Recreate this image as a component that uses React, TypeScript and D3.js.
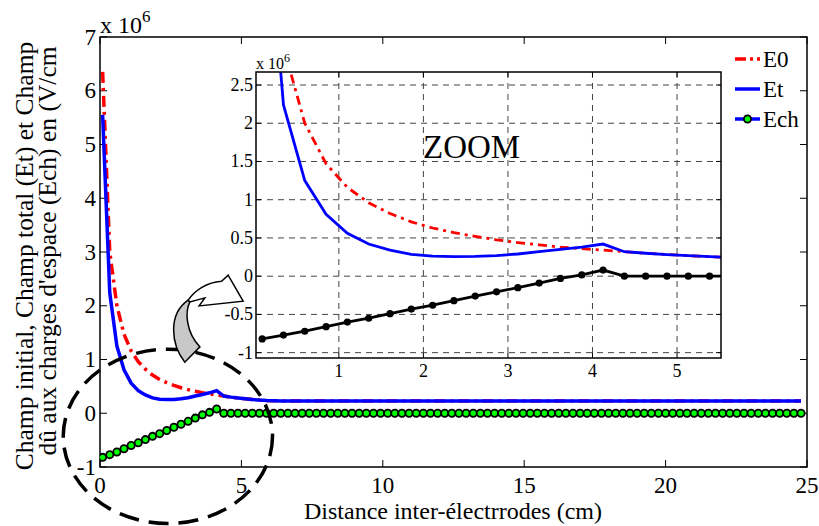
import React from 'react';
import * as d3 from 'd3';

const W = 819;
const H = 526;
const FONT = "Liberation Serif, Tinos, Times New Roman, DejaVu Serif, serif";

// sampling grid of the simulation (cm)
const GRID_START = 0.093;
const GRID_STEP = 0.252;
const GRID_COUNT = 99;
const distance = d3.range(GRID_COUNT).map(i => GRID_START + GRID_STEP * i);

// x 10^6 V/cm, first 26 grid points, then flat to the end
const e0Head = [
  6.35, 3.0, 2.0, 1.47, 1.16, 0.96, 0.82, 0.71, 0.63, 0.57, 0.52, 0.475, 0.44,
  0.41, 0.38, 0.36, 0.34, 0.32, 0.3, 0.283, 0.268, 0.255, 0.245, 0.238, 0.234, 0.23,
];
const etHead = [
  5.55, 2.24, 1.25, 0.81, 0.56, 0.42, 0.34, 0.285, 0.262, 0.255, 0.258, 0.27, 0.29,
  0.32, 0.35, 0.38, 0.42, 0.32, 0.3, 0.283, 0.268, 0.255, 0.245, 0.238, 0.234, 0.23,
];
const tailValue = 0.23;

const ech = [
  -0.82, -0.77, -0.72, -0.66, -0.6, -0.55, -0.49, -0.43, -0.38, -0.32, -0.26, -0.205,
  -0.15, -0.09, -0.03, 0.017, 0.08,
  0, 0, 0, 0, 0, 0, 0, 0, 0, 0, 0, 0, 0, 0, 0, 0, 0, 0, 0, 0,
  0, 0, 0, 0, 0, 0, 0, 0, 0, 0, 0, 0, 0, 0, 0, 0, 0, 0, 0, 0,
  0, 0, 0, 0, 0, 0, 0, 0, 0, 0, 0, 0, 0, 0, 0, 0, 0, 0, 0, 0,
  0, 0, 0, 0, 0, 0, 0, 0, 0, 0, 0, 0, 0, 0, 0, 0, 0, 0, 0, 0,
  0, 0,
];

const xTicks = [0, 5, 10, 15, 20, 25];
const yTicks = [-1, 0, 1, 2, 3, 4, 5, 6, 7];
const xTicksZoom = [1, 2, 3, 4, 5];
const yTicksZoom = [-1, -0.5, 0, 0.5, 1, 1.5, 2, 2.5];

const legendItems = ['E0', 'Et', 'Ech'];

type Pt = [number, number];

const withTail = (head: number[]): Pt[] =>
  head.map((v, i) => [distance[i], v] as Pt).concat([[distance[GRID_COUNT - 1], tailValue]]);

const e0Pts = withTail(e0Head);
const etPts = withTail(etHead);
const echPts: Pt[] = ech.map((v, i) => [distance[i], v]);

// main axes
const x = d3.scaleLinear().domain([0, 25]).range([100, 807]);
const y = d3.scaleLinear().domain([-1, 7]).range([467, 37]);
// zoom inset
const xi = d3.scaleLinear().domain([0.02, 5.52]).range([256, 721]);
const yi = d3.scaleLinear().domain([-1.07, 2.67]).range([358, 72]);

const App = () => {
  const mainLine = d3.line<Pt>().x(d => x(d[0])).y(d => y(d[1]));
  const zoomLine = d3.line<Pt>().x(d => xi(d[0])).y(d => yi(d[1]));

  const [x0, x1] = x.range();
  const [y0, y1] = y.range();
  const [ix0, ix1] = xi.range();
  const [iy0, iy1] = yi.range();

  // annotation ellipse and arrow, anchored in data units
  const ecx = x(2.4);
  const ecy = y(-0.43);
  const erx = x(2.4 + 3.7) - ecx;
  const ery = y(-0.43) - y(1.19);
  const ax = x(3.0);
  const ay = y(0.95);

  return (
    <svg width={W} height={H} fontFamily={FONT}
      style={{ position: 'absolute', left: 0, top: 0, background: '#fff' }}>
      <defs>
        <clipPath id="mainClip">
          <rect x={x0} y={y1} width={x1 - x0} height={y0 - y1} />
        </clipPath>
        <clipPath id="zoomClip">
          <rect x={ix0} y={iy1} width={ix1 - ix0} height={iy0 - iy1} />
        </clipPath>
      </defs>
      <rect width={W} height={H} fill="#fff" />

      {/* main frame and ticks */}
      <rect x={x0} y={y1} width={x1 - x0} height={y0 - y1} fill="none" stroke="#000" strokeWidth={1.5} />
      {xTicks.map(t => (
        <g key={'xt' + t}>
          <line x1={x(t)} x2={x(t)} y1={y0} y2={y0 - 7} stroke="#000" />
          <line x1={x(t)} x2={x(t)} y1={y1} y2={y1 + 7} stroke="#000" />
          <text x={x(t)} y={493} fontSize={23} textAnchor="middle">{t}</text>
        </g>
      ))}
      {yTicks.map(t => (
        <g key={'yt' + t}>
          <line x1={x0} x2={x0 + 7} y1={y(t)} y2={y(t)} stroke="#000" />
          <line x1={x1} x2={x1 - 7} y1={y(t)} y2={y(t)} stroke="#000" />
          <text x={96} y={y(t)} fontSize={23} textAnchor="end" dominantBaseline="central">{t}</text>
        </g>
      ))}
      <text x={100} y={33} fontSize={24}>
        x 10<tspan fontSize={17} dy={-11}>6</tspan>
      </text>
      <text x={453} y={519} fontSize={24} textAnchor="middle">Distance inter-électrrodes (cm)</text>
      <text transform="translate(33,256) rotate(-90)" fontSize={25.5} textAnchor="middle">
        Champ initial, Champ total (Et) et Champ
      </text>
      <text transform="translate(56,251) rotate(-90)" fontSize={25.5} textAnchor="middle">
        dû aux charges d'espace (Ech) en (V/cm
      </text>

      {/* main curves */}
      <g clipPath="url(#mainClip)">
        <path d={mainLine(e0Pts) ?? ''} fill="none" stroke="#ff0000" strokeWidth={3.5}
          strokeDasharray="11,5,3,5" />
        <path d={mainLine(etPts) ?? ''} fill="none" stroke="#0000ff" strokeWidth={3.5} />
        <path d={mainLine(echPts) ?? ''} fill="none" stroke="#000" strokeWidth={2} />
        {echPts.map((d, i) => (
          <circle key={i} cx={x(d[0])} cy={y(d[1])} r={3.6} fill="#00ff00" stroke="#000" strokeWidth={1.8} />
        ))}
      </g>

      {/* dashed ellipse */}
      <ellipse cx={ecx} cy={ecy} rx={erx} ry={ery} fill="none" stroke="#000" strokeWidth={3.5}
        strokeDasharray="20,10" />

      {/* curved arrow */}
      <g transform={`translate(${ax},${ay})`} stroke="#000" strokeWidth={1.5} strokeLinejoin="miter">
        <path d="M0,0 C-14,-18 -17,-48 3.3,-62 L5,-60.3 C0,-50 1,-30 15,-15.3 Z" fill="#c8c8c8" />
        <path d="M3.3,-62 C10,-72 22,-80 36.7,-81 L43.3,-87 L58.3,-61 L14.3,-56.3 L20,-64.3 L5,-60.3 Z"
          fill="#fff" />
      </g>

      {/* zoom inset */}
      <rect x={ix0} y={iy1} width={ix1 - ix0} height={iy0 - iy1} fill="#fff" />
      {xTicksZoom.map(t => (
        <line key={'gx' + t} x1={xi(t)} x2={xi(t)} y1={iy1} y2={iy0} stroke="#444" strokeWidth={1}
          strokeDasharray="6,5" />
      ))}
      {yTicksZoom.map(t => (
        <line key={'gy' + t} x1={ix0} x2={ix1} y1={yi(t)} y2={yi(t)} stroke="#444" strokeWidth={1}
          strokeDasharray="6,5" />
      ))}
      <g clipPath="url(#zoomClip)">
        <path d={zoomLine(e0Pts) ?? ''} fill="none" stroke="#ff0000" strokeWidth={2.8}
          strokeDasharray="9,5,3,5" />
        <path d={zoomLine(etPts) ?? ''} fill="none" stroke="#0000ff" strokeWidth={2.8} />
        <path d={zoomLine(echPts) ?? ''} fill="none" stroke="#000" strokeWidth={2.8} />
        {echPts.map((d, i) => (
          <circle key={i} cx={xi(d[0])} cy={yi(d[1])} r={3.6} fill="#000" />
        ))}
      </g>
      <rect x={ix0} y={iy1} width={ix1 - ix0} height={iy0 - iy1} fill="none" stroke="#000" strokeWidth={1.5} />
      {xTicksZoom.map(t => (
        <g key={'ixt' + t}>
          <line x1={xi(t)} x2={xi(t)} y1={iy0} y2={iy0 - 5} stroke="#000" />
          <line x1={xi(t)} x2={xi(t)} y1={iy1} y2={iy1 + 5} stroke="#000" />
          <text x={xi(t)} y={377} fontSize={18} textAnchor="middle">{t}</text>
        </g>
      ))}
      {yTicksZoom.map(t => (
        <g key={'iyt' + t}>
          <line x1={ix0} x2={ix0 + 5} y1={yi(t)} y2={yi(t)} stroke="#000" />
          <line x1={ix1} x2={ix1 - 5} y1={yi(t)} y2={yi(t)} stroke="#000" />
          <text x={ix0 - 3} y={yi(t)} fontSize={18} textAnchor="end" dominantBaseline="central">{t}</text>
        </g>
      ))}
      <text x={ix0} y={69} fontSize={16}>
        x 10<tspan fontSize={12} dy={-7}>6</tspan>
      </text>
      <text x={423} y={158} fontSize={33}>ZOOM</text>

      {/* legend */}
      {legendItems.map((name, i) => {
        const ly = 59 + i * 30;
        return (
          <g key={name}>
            {name === 'E0' && (
              <line x1={735} x2={760} y1={ly} y2={ly} stroke="#ff0000" strokeWidth={3.5}
                strokeDasharray="11,4,3,4" />
            )}
            {name !== 'E0' && (
              <line x1={735} x2={760} y1={ly} y2={ly} stroke="#0000ff" strokeWidth={3.5} />
            )}
            {name === 'Ech' && (
              <circle cx={747.5} cy={ly} r={3.6} fill="#00ff00" stroke="#000" strokeWidth={1.8} />
            )}
            <text x={763} y={ly} fontSize={23} dominantBaseline="central">{name}</text>
          </g>
        );
      })}
    </svg>
  );
};

export default App;
